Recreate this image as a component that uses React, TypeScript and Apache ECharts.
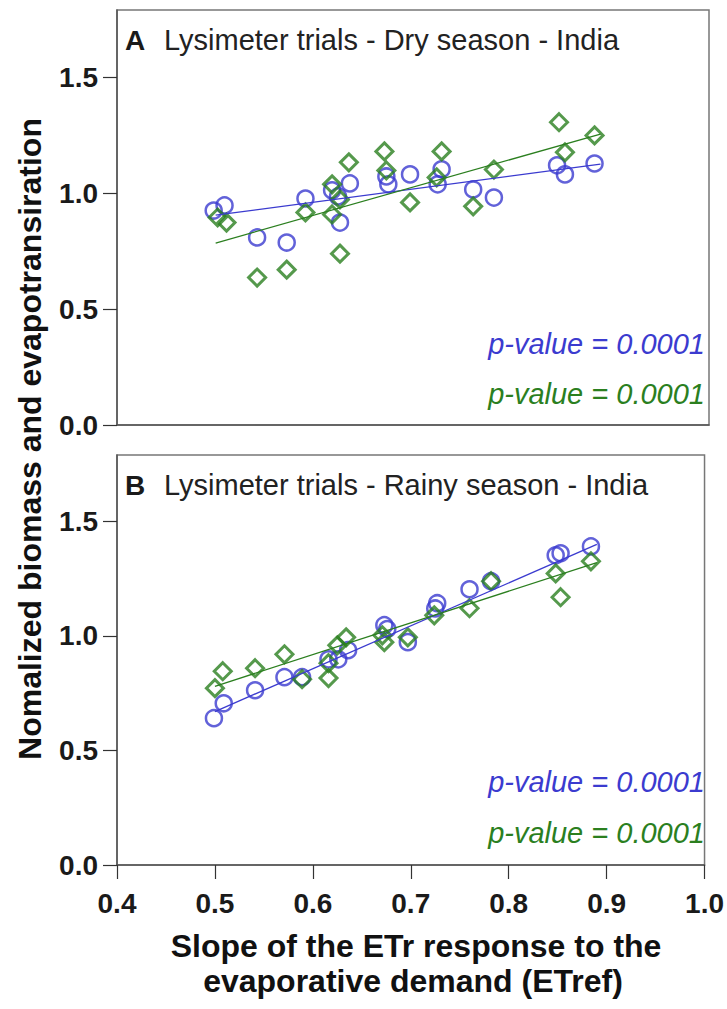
import React, { useEffect, useRef } from "react";
import * as echarts from "echarts";

// Panel A – Dry season
const dryBlueX = [0.498, 0.509, 0.542, 0.572, 0.591, 0.618, 0.624, 0.626, 0.636, 0.673, 0.675, 0.697, 0.725, 0.729, 0.761, 0.782, 0.846, 0.854, 0.884];
const dryBlueY = [0.925, 0.947, 0.809, 0.787, 0.977, 1.012, 0.986, 0.873, 1.042, 1.072, 1.038, 1.081, 1.038, 1.103, 1.016, 0.981, 1.12, 1.081, 1.128];
const dryGreenX = [0.502, 0.511, 0.542, 0.572, 0.591, 0.618, 0.618, 0.626, 0.626, 0.635, 0.671, 0.673, 0.697, 0.724, 0.729, 0.761, 0.782, 0.848, 0.854, 0.884];
const dryGreenY = [0.895, 0.873, 0.636, 0.67, 0.917, 1.038, 0.908, 0.973, 0.739, 1.133, 1.18, 1.098, 0.96, 1.068, 1.18, 0.943, 1.102, 1.306, 1.176, 1.249];
const dryBlueFitX = [0.5, 0.89];
const dryBlueFitY = [0.905, 1.125];
const dryGreenFitX = [0.5, 0.89];
const dryGreenFitY = [0.785, 1.255];

// Panel B – Rainy season
const rainyBlueX = [0.499, 0.509, 0.541, 0.571, 0.589, 0.616, 0.626, 0.636, 0.673, 0.676, 0.697, 0.725, 0.727, 0.76, 0.782, 0.848, 0.853, 0.884];
const rainyBlueY = [0.641, 0.706, 0.763, 0.82, 0.82, 0.898, 0.898, 0.938, 1.047, 1.03, 0.973, 1.12, 1.143, 1.204, 1.239, 1.352, 1.361, 1.391];
const rainyGreenX = [0.5, 0.508, 0.541, 0.571, 0.589, 0.616, 0.616, 0.625, 0.634, 0.671, 0.673, 0.697, 0.724, 0.76, 0.782, 0.848, 0.853, 0.884];
const rainyGreenY = [0.772, 0.846, 0.859, 0.92, 0.811, 0.816, 0.881, 0.959, 0.994, 1.003, 0.973, 0.994, 1.09, 1.121, 1.239, 1.273, 1.169, 1.326];
const rainyBlueFitX = [0.5, 0.89];
const rainyBlueFitY = [0.67, 1.4];
const rainyGreenFitX = [0.5, 0.89];
const rainyGreenFitY = [0.78, 1.32];

const xTicks = [0.4, 0.5, 0.6, 0.7, 0.8, 0.9, 1.0];
const yTicks = [0, 0.5, 1.0, 1.5];

const panelTitles = ["Lysimeter trials - Dry season - India", "Lysimeter trials - Rainy season - India"];
const panelLetters = ["A", "B"];
const pValueText = "p-value = 0.0001";
const yTitle = "Nomalized biomass and evapotransiration";
const xTitleLines = ["Slope of the ETr response to the", "evaporative demand (ETref)"];

const BLUE = "#3b3bcf";
const GREEN = "#2b7f1f";
const FONT = "Liberation Sans, Arial, sans-serif";

const zip = (xs: number[], ys: number[]) => xs.map((x, i) => [x, ys[i]]);

export default function App() {
  const ref = useRef<HTMLDivElement>(null);
  useEffect(() => {
    if (!ref.current) return;
    const chart = echarts.init(ref.current, undefined, { renderer: "svg" });
    const grids = [
      { left: 117, top: 10, width: 592, height: 415 },
      { left: 117, top: 455, width: 592, height: 410 },
    ];
    const xAxis = grids.map((_, i) => ({
      type: "value",
      gridIndex: i,
      min: 0.4,
      max: 1.0,
      interval: 0.1,
      axisLine: { show: true, onZero: false, lineStyle: { color: "#555", width: 1.5 } },
      axisTick: { show: i === 1, length: 14, lineStyle: { color: "#333", width: 1.2 }, customValues: xTicks },
      axisLabel: {
        show: i === 1,
        customValues: xTicks,
        formatter: (v: number) => v.toFixed(1),
        fontFamily: FONT,
        fontWeight: "bold",
        fontSize: 28,
        color: "#1a1a1a",
        margin: 24,
      },
      splitLine: { show: false },
    }));
    const yAxis = grids.map((_, i) => ({
      type: "value",
      gridIndex: i,
      min: 0,
      max: 1.79,
      axisLine: { show: true, lineStyle: { color: "#555", width: 1.5 } },
      axisTick: { show: true, length: 14, lineStyle: { color: "#333", width: 1.2 }, customValues: yTicks },
      axisLabel: {
        customValues: yTicks,
        formatter: (v: number) => v.toFixed(1),
        fontFamily: FONT,
        fontWeight: "bold",
        fontSize: 28,
        color: "#1a1a1a",
        margin: 19,
      },
      splitLine: { show: false },
    }));
    const scatter = (data: number[][], idx: number, color: string, symbol: string, size: number, bw: number) => ({
      type: "scatter",
      xAxisIndex: idx,
      yAxisIndex: idx,
      data,
      symbol,
      symbolSize: size,
      itemStyle: { color: "rgba(0,0,0,0)", borderColor: color, borderWidth: bw },
      z: 3,
    });
    const fit = (data: number[][], idx: number, color: string) => ({
      type: "line",
      xAxisIndex: idx,
      yAxisIndex: idx,
      data,
      symbol: "none",
      lineStyle: { color, width: 1.3 },
      z: 4,
    });
    const panelText = (cy: number, pBlue: number, pGreen: number, i: number) => [
      {
        type: "text",
        x: 125,
        y: cy,
        style: { text: panelLetters[i], font: `bold 28px ${FONT}`, fill: "#1a1a1a", verticalAlign: "middle" },
      },
      {
        type: "text",
        x: 164,
        y: cy,
        style: { text: panelTitles[i], font: `29px ${FONT}`, fill: "#222", verticalAlign: "middle" },
      },
      {
        type: "text",
        x: 705,
        y: pBlue,
        style: { text: pValueText, font: `italic 29px ${FONT}`, fill: BLUE, align: "right", verticalAlign: "middle" },
      },
      {
        type: "text",
        x: 705,
        y: pGreen,
        style: { text: pValueText, font: `italic 29px ${FONT}`, fill: GREEN, align: "right", verticalAlign: "middle" },
      },
    ];
    chart.setOption({
      animation: false,
      grid: grids.map((g) => ({ ...g, show: true, borderColor: "#777", borderWidth: 1.5, backgroundColor: "#fff" })),
      xAxis,
      yAxis,
      series: [
        fit(zip(dryBlueFitX, dryBlueFitY), 0, BLUE),
        fit(zip(dryGreenFitX, dryGreenFitY), 0, GREEN),
        scatter(zip(dryBlueX, dryBlueY), 0, BLUE, "circle", 16, 2.5),
        scatter(zip(dryGreenX, dryGreenY), 0, GREEN, "diamond", 17, 3),
        fit(zip(rainyBlueFitX, rainyBlueFitY), 1, BLUE),
        fit(zip(rainyGreenFitX, rainyGreenFitY), 1, GREEN),
        scatter(zip(rainyBlueX, rainyBlueY), 1, BLUE, "circle", 16, 2.5),
        scatter(zip(rainyGreenX, rainyGreenY), 1, GREEN, "diamond", 17, 3),
      ],
      graphic: [
        ...panelText(40, 344, 394, 0),
        ...panelText(485, 782, 833, 1),
        {
          type: "text",
          x: 30,
          y: 439,
          rotation: Math.PI / 2,
          style: {
            text: yTitle,
            font: `bold 32px ${FONT}`,
            fill: "#111",
            align: "center",
            verticalAlign: "middle",
          },
        },
        {
          type: "text",
          x: 416,
          y: 946,
          style: { text: xTitleLines[0], font: `bold 32px ${FONT}`, fill: "#111", align: "center", verticalAlign: "middle" },
        },
        {
          type: "text",
          x: 413,
          y: 981,
          style: { text: xTitleLines[1], font: `bold 32px ${FONT}`, fill: "#111", align: "center", verticalAlign: "middle" },
        },
      ],
    });
    return () => chart.dispose();
  }, []);
  return <div ref={ref} style={{ width: 727, height: 1009, position: "absolute", left: 0, top: 0 }} />;
}
